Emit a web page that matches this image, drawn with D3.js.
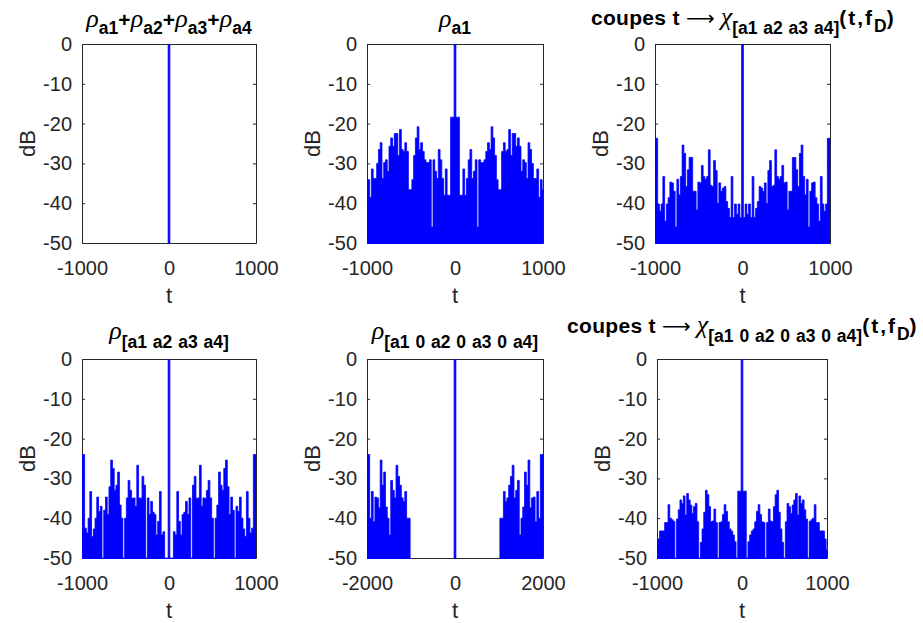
<!DOCTYPE html>
<html>
<head>
<meta charset="utf-8">
<script src="https://cdn.jsdelivr.net/npm/d3@7"></script>
<style>
    body { margin: 0; background: #fff; }
    svg { display: block; }
    .axis text { font-family: "Liberation Sans", Arial, sans-serif; font-size: 20px; fill: #262626; }
    .axis path, .axis line { stroke: #262626; }
    .axis-label { font-family: "Liberation Sans", Arial, sans-serif; font-size: 22px; fill: #262626; }
    .title { font-family: "Liberation Sans", Arial, sans-serif; font-weight: bold; font-size: 21px; fill: #000; white-space: pre; }
</style>
</head>
<body>
<div id="chart"></div>
<script>
// Ticks
const Y_TICKS = [0, -10, -20, -30, -40, -50];
const X_TICKS = [-1000, 0, 1000];
const X_TICKS_PADDED = [-2000, 0, 2000];

// Lag grids (sample times of each curve)
const LAGS = d3.range(-1000, 1001, 20);          // 101 samples
const LAGS_PADDED = d3.range(-2000, 2001, 40);   // 101 samples
const LAGS_SPIKE = [-1000, -20, 0, 20, 1000];

// Values in dB (-100 = below the -50 dB floor)
const RHO_SUM = [-100, -100, 0, -100, -100];

const RHO_A1 = [
    -36.6, -34.1, -38.5, -31.4, -33.8, -33.8, -30, -26.5, -24.8, -33.8,
    -29.8, -29.1, -32, -25.7, -23.6, -25.7, -22.5, -22.5, -28, -21.5,
    -26.5, -27, -24.8, -27, -36.6, -36.6, -34.1, -28, -23.6, -20.8,
    -26.5, -24.8, -27, -29.1, -29.8, -29.8, -29.1, -46, -29.1, -32,
    -33.8, -26.5, -29.1, -33.8, -38, -31.4, -38, -38, -18.4, -18.4,
    0,
    -18.4, -18.4, -38, -38, -31.4, -38, -33.8, -29.1, -26.5, -33.8,
    -32, -29.1, -46, -29.1, -29.8, -29.8, -29.1, -27, -24.8, -26.5,
    -20.8, -23.6, -28, -34.1, -36.6, -36.6, -27, -24.8, -27, -26.5,
    -21.5, -28, -22.5, -22.5, -25.7, -23.6, -25.7, -32, -29.1, -29.8,
    -33.8, -24.8, -26.5, -30, -33.8, -33.8, -31.4, -38.5, -34.1, -36.6
];

const CHI_A = [
    -23.7, -23.7, -40.2, -42, -40.2, -33.3, -44.5, -40.2, -38.6, -34.7,
    -34.9, -37, -46, -34, -37.9, -33.3, -25.4, -27.5, -35.8, -31.6,
    -28.5, -28.5, -37, -37, -41.7, -34.7, -34.9, -30.5, -33.3, -34,
    -33.3, -26.6, -35.5, -35.8, -29.3, -31.8, -40, -34.9, -37, -36.2,
    -35.8, -39.6, -41.3, -43.6, -33.3, -43.6, -40.2, -42.8, -40.2, -43.6,
    0,
    -43.6, -40.2, -42.8, -40.2, -43.6, -33.3, -43.6, -41.3, -39.6, -35.8,
    -36.2, -37, -34.9, -40, -31.8, -29.3, -35.8, -35.5, -26.6, -33.3,
    -34, -33.3, -30.5, -34.9, -34.7, -41.7, -37, -37, -28.5, -28.5,
    -31.6, -35.8, -27.5, -25.4, -33.3, -37.9, -34, -46, -37, -34.9,
    -34.7, -38.6, -40.2, -44.5, -33.3, -40.2, -42, -40.2, -23.7, -23.7
];

const RHO_A = [
    -24, -24, -42.5, -43.7, -40, -33.3, -44.6, -42.7, -40, -34.7,
    -38.3, -37, -50, -38, -34.7, -39.1, -32.1, -25.4, -27.5, -33,
    -31.7, -28.4, -36.7, -40, -50, -40, -34.9, -30.5, -33, -35,
    -34.9, -37, -26.7, -34.9, -35, -29.5, -31.7, -50, -34.9, -39.1,
    -35.8, -38.5, -39.1, -44.2, -40.8, -33.3, -44.2, -43.4, -50, -50,
    0,
    -50, -50, -43.4, -44.2, -33.3, -40.8, -44.2, -39.1, -38.5, -35.8,
    -39.1, -34.9, -50, -31.7, -29.5, -35, -34.9, -26.7, -37, -34.9,
    -35, -33, -30.5, -34.9, -40, -50, -40, -36.7, -28.4, -31.7,
    -33, -27.5, -25.4, -32.1, -39.1, -34.7, -38, -50, -37, -38.3,
    -34.7, -40, -42.7, -44.6, -33.3, -40, -43.7, -42.5, -24, -24
];

const RHO_A_PADDED = [
    -24, -24, -40, -33.3, -40.9, -34.7, -34.9, -37.4, -25.4, -31.7,
    -28.4, -37.2, -40, -44.2, -30.5, -33, -34.9, -26.7, -29.5, -31.7,
    -34.9, -35.8, -33.3, -40, -40,
    -100, -100, -100, -100, -100, -100, -100, -100, -100, -100,
    -100, -100, -100, -100, -100, -100, -100, -100, -100, -100,
    -100, -100, -100, -100, -100,
    0,
    -100, -100, -100, -100, -100, -100, -100, -100, -100, -100,
    -100, -100, -100, -100, -100, -100, -100, -100, -100, -100,
    -100, -100, -100, -100, -100,
    -40, -40, -33.3, -35.8, -34.9, -31.7, -29.5, -26.7, -34.9, -33,
    -30.5, -44.2, -40, -37.2, -28.4, -31.7, -25.4, -37.4, -34.9, -34.7,
    -40.9, -33.3, -40, -24, -24
];

const CHI_A_PADDED = [
    -48, -45.2, -43.2, -43.2, -43.2, -41.1, -41.1, -36.6, -40, -40.4,
    -40.8, -50, -40.2, -37.9, -35.4, -36.3, -34.4, -39.2, -33.8, -35.4,
    -36.7, -38.8, -37.1, -36.3, -40.9, -50, -46.1, -42.7, -38.5, -33,
    -34.1, -37.1, -40.9, -40.7, -37.7, -41.1, -50, -41.1, -40.9, -39.1,
    -36.6, -38.3, -40.9, -42.7, -43.2, -44.2, -45.9, -50, -33.2, -33.2,
    0,
    -33.2, -33.2, -50, -45.9, -44.2, -43.2, -42.7, -40.9, -38.3, -36.6,
    -39.1, -40.9, -41.1, -50, -41.1, -37.7, -40.7, -40.9, -37.1, -34.1,
    -33, -38.5, -42.7, -46.1, -50, -40.9, -36.3, -37.1, -38.8, -36.7,
    -35.4, -33.8, -39.2, -34.4, -36.3, -35.4, -37.9, -40.2, -50, -40.8,
    -40.4, -40, -36.6, -41.1, -41.1, -43.2, -43.2, -43.2, -45.2, -48
];

// Titles: g = greek (TeX italic), s = subscript, S = low subscript, a = arrow, w = wide text
const TITLE_SUM = [['ρ', 'g'], ['a1', 's'], ['+'], ['ρ', 'g'], ['a2', 's'], ['+'], ['ρ', 'g'], ['a3', 's'], ['+'], ['ρ', 'g'], ['a4', 's']];
const TITLE_A1 = [['ρ', 'g'], ['a1', 's']];
const TITLE_CHI = [['coupes t '], ['⟶', 'a'], [' '], ['χ', 'g'], ['[a1 a2 a3 a4]', 'S'], ['(t,f', 'w'], ['D', 's'], [')']];
const TITLE_RHO = [['ρ', 'g'], ['[a1 a2 a3 a4]', 'S']];
const TITLE_RHO_PADDED = [['ρ', 'g'], ['[a1 0 a2 0 a3 0 a4]', 'S']];
const TITLE_CHI_PADDED = [['coupes t '], ['⟶', 'a'], [' '], ['χ', 'g'], ['[a1 0 a2 0 a3 0 a4]', 'S'], ['(t,f', 'w'], ['D', 's'], [')']];

const W = 923, H = 623;
const ROW1 = { top: 44, bottom: 243 };
const ROW2 = { top: 359, bottom: 558 };

const panels = [
    { row: ROW1, left: 82, right: 256, titleY: 27, t: LAGS_SPIKE, v: RHO_SUM, xDomain: [-1000, 1000], xTicks: X_TICKS, title: TITLE_SUM },
    { row: ROW1, left: 367, right: 543, titleY: 27, t: LAGS, v: RHO_A1, xDomain: [-1000, 1000], xTicks: X_TICKS, title: TITLE_A1 },
    { row: ROW1, left: 655, right: 830, titleY: 25, t: LAGS, v: CHI_A, xDomain: [-1000, 1000], xTicks: X_TICKS, title: TITLE_CHI },
    { row: ROW2, left: 82, right: 256, titleY: 339, t: LAGS, v: RHO_A, xDomain: [-1000, 1000], xTicks: X_TICKS, title: TITLE_RHO },
    { row: ROW2, left: 367, right: 543, titleY: 339, t: LAGS_PADDED, v: RHO_A_PADDED, xDomain: [-2000, 2000], xTicks: X_TICKS_PADDED, title: TITLE_RHO_PADDED },
    { row: ROW2, left: 657, right: 827, titleY: 333, t: LAGS, v: CHI_A_PADDED, xDomain: [-1000, 1000], xTicks: X_TICKS, title: TITLE_CHI_PADDED }
];

const svg = d3.select('#chart')
    .append('svg')
    .attr('width', W)
    .attr('height', H)
    .style('background', '#fff');

panels.forEach((p, k) => drawPanel(p, k));

function drawPanel(p, k) {
    const top = p.row.top, bottom = p.row.bottom;
    const x = d3.scaleLinear().domain(p.xDomain).range([p.left, p.right]);
    const y = d3.scaleLinear().domain([-50, 0]).range([bottom, top]);

    const g = svg.append('g');

    // axes (inward ticks on all four sides)
    g.append('g')
        .attr('class', 'axis')
        .attr('transform', `translate(${p.left},0)`)
        .call(d3.axisLeft(y).tickValues(Y_TICKS).tickSize(-3).tickSizeOuter(0).tickPadding(10).tickFormat(d => String(d)));
    g.append('g')
        .attr('class', 'axis')
        .attr('transform', `translate(${p.right},0)`)
        .call(d3.axisRight(y).tickValues(Y_TICKS).tickSize(-3).tickSizeOuter(0).tickFormat(''));
    g.append('g')
        .attr('class', 'axis')
        .attr('transform', `translate(0,${bottom})`)
        .call(d3.axisBottom(x).tickValues(p.xTicks).tickSize(-3).tickSizeOuter(0).tickPadding(18).tickFormat(d => String(d)));
    g.append('g')
        .attr('class', 'axis')
        .attr('transform', `translate(0,${top})`)
        .call(d3.axisTop(x).tickValues(p.xTicks).tickSize(-3).tickSizeOuter(0).tickFormat(''));

    g.selectAll('.axis text').attr('font-family', null).attr('font-size', null);
    g.selectAll('.axis path, .axis line').attr('stroke', '#262626');

    // data, clipped to the plot box
    const clipId = 'clip' + k;
    svg.append('clipPath').attr('id', clipId)
        .append('rect')
        .attr('x', p.left).attr('y', top)
        .attr('width', p.right - p.left).attr('height', bottom - top + 1);

    const area = d3.area()
        .curve(d3.curveStep)
        .x((d, i) => x(p.t[i]))
        .y0(bottom + 10)
        .y1(d => y(d));
    const line = d3.line()
        .curve(d3.curveStep)
        .x((d, i) => x(p.t[i]))
        .y(d => y(d));

    const dg = g.append('g').attr('clip-path', `url(#${clipId})`);
    dg.append('path')
        .datum(p.v)
        .attr('fill', '#0000ff')
        .attr('d', area);
    dg.append('path')
        .datum(p.v)
        .attr('fill', 'none')
        .attr('stroke', '#0000ff')
        .attr('stroke-width', 0.8)
        .attr('d', line);

    // axis labels
    const cx = (p.left + p.right) / 2;
    g.append('text')
        .attr('class', 'axis-label')
        .attr('x', cx)
        .attr('y', bottom + 60)
        .attr('text-anchor', 'middle')
        .text('t');
    g.append('text')
        .attr('class', 'axis-label')
        .attr('transform', `translate(${p.left - 47},${(top + bottom) / 2}) rotate(-90)`)
        .attr('text-anchor', 'middle')
        .text('dB');

    drawTitle(g, p.title, cx, p.titleY);
}

function drawTitle(g, parts, cx, baseline) {
    const text = g.append('text')
        .attr('class', 'title')
        .attr('x', cx)
        .attr('y', baseline)
        .attr('text-anchor', 'middle');
    let off = 0;
    parts.forEach(([s, kind]) => {
        const target = kind === 's' ? 7 : kind === 'S' ? 9 : 0;
        const ts = text.append('tspan').attr('dy', target - off).text(s);
        off = target;
        if (kind === 's' || kind === 'S') {
            ts.style('font-size', '17.5px').style('word-spacing', '1px');
        } else if (kind === 'g') {
            ts.style('font-family', '"Liberation Serif", serif')
                .style('font-style', 'italic')
                .style('font-weight', 'normal')
                .style('font-size', '26px');
        } else if (kind === 'a') {
            ts.style('font-family', '"DejaVu Sans", sans-serif')
                .style('font-weight', 'normal')
                .style('font-size', '20px');
        } else if (kind === 'w') {
            ts.style('letter-spacing', '2px');
        } else {
            ts.style('letter-spacing', '0.3px');
        }
    });
}
</script>
</body>
</html>
